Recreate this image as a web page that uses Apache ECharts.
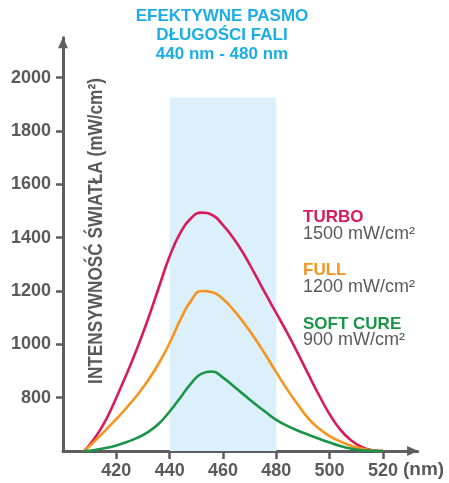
<!DOCTYPE html>
<html>
<head>
<meta charset="utf-8">
<script src="https://cdn.jsdelivr.net/npm/echarts@6/dist/echarts.min.js"></script>
<style>
html,body{margin:0;padding:0;background:#fff;}
#c{width:449px;height:483px;}
</style>
</head>
<body>
<div id="c"></div>
<script>
// ---- data ----
const wavelengths = [408,412,416,420,424,428,432,436,440,444,448,452,456,460,464,468,472,476,480,484,488,492,496,500,504,508,512,516,520];
const turbo =      [600,650,715,800,892,990,1098,1215,1330,1418,1473,1494,1485,1447,1397,1335,1263,1189,1117,1045,968,888,810,738,680,640,615,603,600];
const full =       [600,638,678,720,764,812,866,930,1005,1092,1163,1200,1195,1170,1128,1078,1022,960,895,832,775,722,684,656,636,620,609,602,600];
const softCure =   [600,604,611,621,634,650,672,703,748,800,853,890,898,875,843,810,777,746,717,695,677,661,646,632,619,609,603,601,600];
const xTicks = [420,440,460,480,500,520];
const yTicks = [800,1000,1200,1400,1600,1800,2000];
const band = [440,480];
const bandTop = 1926;
const seriesNames = ['TURBO','FULL','SOFT CURE'];
const seriesPower = ['1500 mW/cm²','1200 mW/cm²','900 mW/cm²'];
const titleLines = ['EFEKTYWNE PASMO','DŁUGOŚCI FALI','440 nm - 480 nm'];
const yTitle = 'INTENSYWNOŚĆ ŚWIATŁA (mW/cm²)';
const xUnit = '(nm)';

// ---- styles ----
const colors = ['#D91A5B','#F7941D','#1A9547'];
const gray = '#5A5A5C';
const axisColor = '#5E5E60';
const font = '"Liberation Sans", Arial, sans-serif';

const chart = echarts.init(document.getElementById('c'), null, {renderer:'canvas'});

const pairs = arr => wavelengths.map((w,i)=>[w, arr[i]]);

const lineSeries = [turbo, full, softCure].map((arr, i) => ({
  name: seriesNames[i],
  type: 'line',
  data: pairs(arr),
  smooth: 0.5,
  symbol: 'none',
  z: 3,
  lineStyle: {color: colors[i], width: 2.6},
  itemStyle: {color: colors[i]}
}));

const labelTop = [217.7, 270.7, 324.3];
const graphics = [];
seriesNames.forEach((n, i) => {
  graphics.push({type:'text', x:303, y:labelTop[i], style:{text:n, fill:colors[i], font:'bold 17px ' + font, textVerticalAlign:'middle', textAlign:'left'}});
  graphics.push({type:'text', x:303, y:labelTop[i]+16, style:{text:seriesPower[i], fill:gray, font:'18px ' + font, textVerticalAlign:'middle', textAlign:'left'}});
});
graphics.push({type:'text', x:96, y:231, rotation:Math.PI/2, scaleX:0.82, style:{text:yTitle, fill:gray, font:'bold 21px ' + font, textAlign:'center', textVerticalAlign:'middle'}});
graphics.push({type:'text', x:403, y:470, style:{text:xUnit, fill:gray, font:'bold 19px ' + font, textAlign:'left', textVerticalAlign:'middle'}});

chart.setOption({
  animation: false,
  title: {
    text: titleLines.join('\n'),
    left: 222, top: 7, textAlign: 'center', padding: 0,
    textStyle: {color:'#1BAEE6', fontSize:17, fontWeight:'bold', fontFamily:font, lineHeight:19}
  },
  grid: {left:63, top:37.7, width:354.6, height:413.3, containLabel:false},
  xAxis: {
    type:'value', min:400, max:533,
    axisLine:{show:true, symbol:['none','triangle'], symbolSize:[10,11], symbolOffset:[0,-5], lineStyle:{color:axisColor, width:3}},
    axisTick:{show:true, customValues:xTicks, length:8, lineStyle:{color:axisColor, width:2.5}},
    axisLabel:{customValues:xTicks, formatter: v => String(v), color:gray, fontSize:18, fontWeight:'bold', fontFamily:font, margin:11},
    splitLine:{show:false}
  },
  yAxis: {
    type:'value', min:600, max:2150,
    axisLine:{show:true, symbol:['none','triangle'], symbolSize:[10,11], symbolOffset:[0,-5], lineStyle:{color:axisColor, width:3}},
    axisTick:{show:true, customValues:yTicks, length:7, lineStyle:{color:axisColor, width:2.5}},
    axisLabel:{customValues:yTicks, formatter: v => String(v), color:gray, fontSize:18, fontWeight:'bold', fontFamily:font, margin:12},
    splitLine:{show:false}
  },
  graphic: graphics,
  series: [{
    type:'line', data:[], z:1, silent:true,
    markArea:{silent:true, itemStyle:{color:'#DCF0FB'}, data:[[{coord:[band[0],600]},{coord:[band[1],bandTop]}]]}
  }].concat(lineSeries)
});
</script>
</body>
</html>
